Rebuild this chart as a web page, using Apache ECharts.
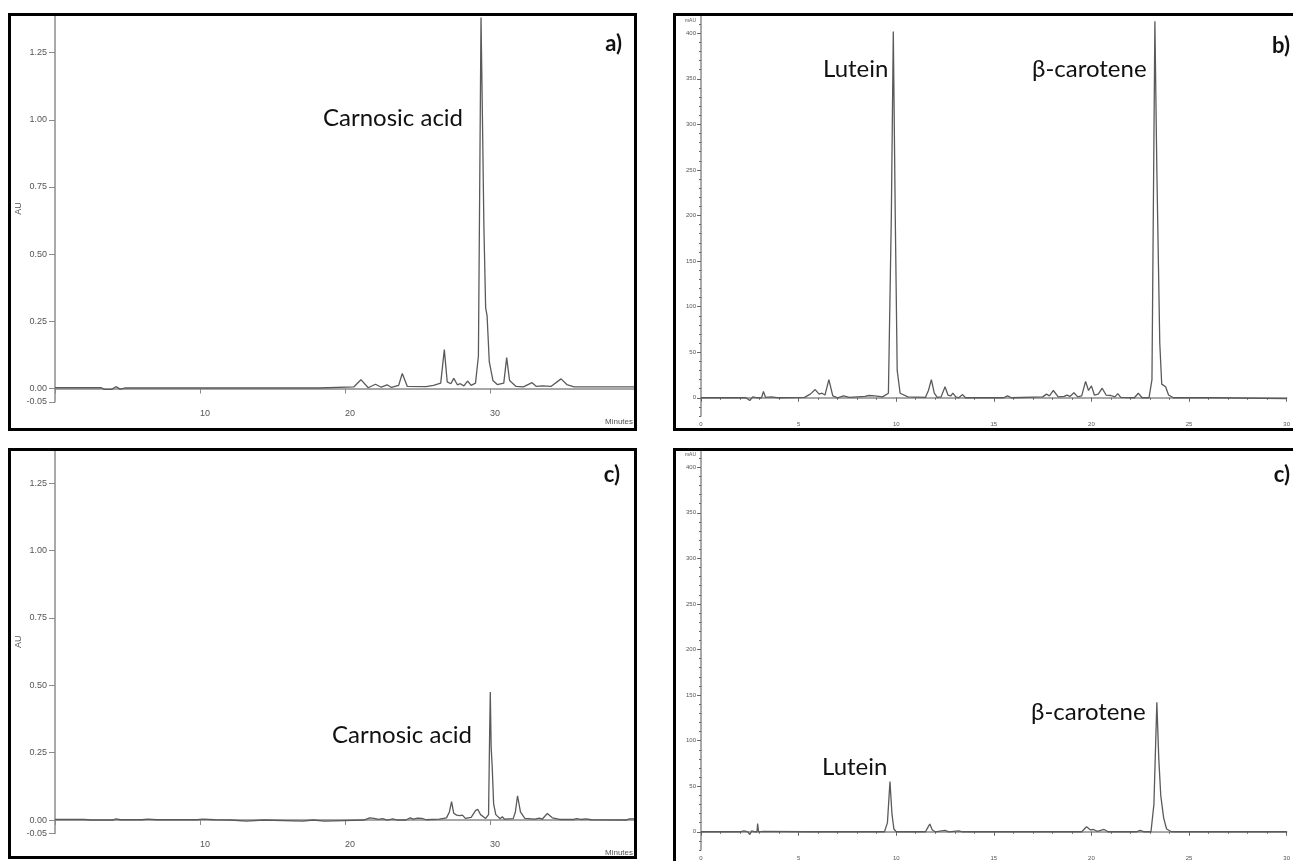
<!DOCTYPE html>
<html>
<head>
<meta charset="utf-8">
<title>HPLC chromatograms</title>
<script src="https://cdn.jsdelivr.net/npm/echarts@6/dist/echarts.min.js"></script>
<style>
  html, body { margin: 0; padding: 0; background: #fff; overflow: hidden; }
  #chart { position: absolute; left: 0; top: 0; width: 1293px; height: 861px; }
  .frame { position: absolute; box-sizing: border-box; border: 3px solid #000; pointer-events: none; }
</style>
</head>
<body>
<div id="chart"></div>
<div class="frame" style="left:8px;top:13px;width:629px;height:418px"></div>
<div class="frame" style="left:673px;top:13px;width:700px;height:418px"></div>
<div class="frame" style="left:8px;top:448px;width:629px;height:411px"></div>
<div class="frame" style="left:673px;top:448px;width:700px;height:500px"></div>
<script>
// a) rosemary extract, AU vs minutes
const timeA = [0, 3.2, 3.4, 3.9, 4.2, 4.5, 4.8, 5.3, 5.4, 5.6, 18.2, 18.3, 20.6, 21.1, 21.6, 22.1, 22.5, 22.9, 23.2, 23.7,
  23.95, 24.3, 25.6, 26.1, 26.6, 26.85, 27.05, 27.3, 27.5, 27.75, 27.95, 28.2, 28.45, 28.7, 29.0, 29.2, 29.38, 29.48, 29.58, 29.7,
  29.8, 29.95, 30.2, 30.5, 30.95, 31.15, 31.35, 31.8, 32.3, 32.9, 33.2, 33.6, 34.2, 34.9, 35.3, 35.8, 40]
const auA = [0.003, 0.003, -0.003, -0.003, 0.007, -0.002, 0.002, 0.002, -0.003, 0.002, 0.002, 0.006, 0.006, 0.033, 0.003, 0.016, 0.005, 0.014, 0.004, 0.012,
  0.056, 0.008, 0.007, 0.012, 0.02, 0.145, 0.025, 0.018, 0.038, 0.014, 0.018, 0.01, 0.028, 0.012, 0.02, 0.12, 1.38, 1.0, 0.6, 0.3,
  0.27, 0.1, 0.03, 0.015, 0.02, 0.115, 0.03, 0.008, 0.006, 0.022, 0.008, 0.01, 0.008, 0.036, 0.015, 0.006, 0.006]

// c) left, AU vs minutes
const timeC = [0, 2, 2.5, 4, 4.2, 4.5, 6, 6.4, 7, 9.8, 10.2, 11, 12.1, 12.2, 13.2, 13.3, 14.4, 14.5, 17.1, 17.2,
  17.8, 17.9, 18.6, 18.7, 21.3, 21.7, 22.0, 22.3, 22.6, 22.9, 23.3, 23.6, 24.2, 24.5, 24.7, 25.0, 25.3, 25.6, 26.5, 27.0,
  27.2, 27.35, 27.5, 27.7, 27.9, 28.1, 28.3, 28.7, 29.0, 29.15, 29.35, 29.7, 29.9, 29.97, 30.02, 30.08, 30.15, 30.25, 30.4, 30.7,
  30.85, 31.0, 31.6, 31.75, 31.9, 32.1, 32.4, 33.1, 33.4, 33.6, 33.95, 34.3, 34.8, 35.8, 35.95, 36.3, 36.6, 37, 39.4, 39.6, 40]
const auC = [0.002, 0.002, 0, 0, 0.004, 0.001, 0.001, 0.003, 0.001, 0.001, 0.003, 0.001, 0, -0.004, -0.004, 0, 0, -0.004, -0.004, 0,
  0, -0.004, -0.004, 0, 0, 0.008, 0.006, 0.002, 0.005, 0, 0.004, 0, 0, 0.008, 0.003, 0.007, 0.006, 0.001, 0.003, 0.008,
  0.03, 0.068, 0.025, 0.018, 0.016, 0.018, 0.006, 0.01, 0.035, 0.04, 0.02, 0.006, 0.02, 0.3, 0.475, 0.27, 0.2, 0.06, 0.02, 0.005,
  0.012, 0.003, 0.005, 0.03, 0.09, 0.03, 0.006, 0.003, 0.007, 0.003, 0.024, 0.008, 0.002, 0.002, 0.005, 0.002, 0.004, 0.001, 0, 0.004, 0.004]

// b) carotenoids, mAU vs minutes
const timeB = [0, 2.3, 2.5, 2.65, 2.9, 3.1, 3.2, 3.3, 3.6, 4.0, 5.3, 5.6, 5.85, 6.05, 6.2, 6.35, 6.55, 6.75, 7.0, 7.3,
  7.6, 8.4, 8.6, 8.9, 9.3, 9.6, 9.75, 9.85, 9.95, 10.05, 10.2, 10.6, 11.5, 11.65, 11.8, 11.95, 12.1, 12.3, 12.5, 12.65,
  12.8, 12.9, 13.05, 13.2, 13.4, 13.55, 15.5, 15.7, 15.9, 17.5, 17.7, 17.85, 18.05, 18.3, 18.6, 18.75, 18.9, 19.1, 19.3, 19.5,
  19.7, 19.85, 20.0, 20.15, 20.35, 20.55, 20.75, 21.0, 21.2, 21.35, 21.5, 22.2, 22.4, 22.6, 22.95, 23.1, 23.25, 23.35, 23.5, 23.6,
  23.8, 23.95, 24.2, 26.4, 26.5, 30]
const mauB = [0, 0, -3, 1, 0, 0, 7, 0.5, 1, 0, 0.5, 4, 9, 4, 5, 3, 20, 2, 0, 2,
  0.5, 1.5, 2.5, 2, 1, 5, 200, 402, 200, 30, 5, 1, 0.5, 8, 20, 5, 0.5, 1, 12, 3,
  2, 5, 1, 0, 3.5, 0, 0, 2, 0, 1, 4, 2, 8, 1, 1.5, 3, 1.5, 5.5, 1, 2,
  18, 8, 13, 3, 4, 10.5, 3, 2.5, 1, 4.5, 0.5, 0, 5, 0, 0, 20, 413, 250, 60, 15,
  12, 3, 0, 0, -1, -1]

// c) right, mAU vs minutes
const timeD = [0, 2.0, 2.2, 2.4, 2.5, 2.6, 2.75, 2.87, 2.9, 2.95, 3.2, 5.4, 5.5, 5.6, 9.4, 9.55, 9.68, 9.78, 9.88, 10.0,
  10.5, 10.6, 11.0, 11.5, 11.6, 11.72, 11.85, 12.0, 12.5, 12.7, 13.2, 13.4, 18.0, 18.1, 18.3, 19.5, 19.75, 19.95, 20.1, 20.3,
  20.65, 20.85, 22.3, 22.5, 22.7, 23.05, 23.2, 23.35, 23.45, 23.55, 23.7, 23.85, 24.1, 30]
const mauD = [0, 0, 1, 0, -3, 1, 0, 0, 9, 0, 0.5, 0, 1, 0, 0, 10, 55, 20, 3, 0,
  0, -1, 0, 0, 4, 8.5, 2, 0, 1.5, 0, 1, 0, 0, 2, 0, 0, 5.5, 2, 2.5, 0.5,
  2.5, 0, 0, 1.5, 0, 0, 30, 142, 80, 40, 15, 3, 0, 0]

// tick labels
const auTicks = [-0.05, 0, 0.25, 0.5, 0.75, 1.0, 1.25]
const minuteTicks = [10, 20, 30]
const mauTicks = [0, 50, 100, 150, 200, 250, 300, 350, 400]

const tickFont = "'Liberation Sans Narrow', 'Liberation Sans', Arial, sans-serif"
const textFont = "Lato, 'Open Sans', sans-serif"
const axisGrey = '#8c8c8c'
const labelGrey = '#555'
const traceGrey = '#5a5a5a'

const pairs = (xs, ys) => xs.map((x, i) => [x, ys[i]])

const chart = echarts.init(document.getElementById('chart'))

const minutesAxis = (grid) => ({
  gridIndex: grid, type: 'value', min: 0, max: 40, interval: 10,
  axisLine: { lineStyle: { color: axisGrey, width: 1.5 } },
  axisTick: { length: 5, lineStyle: { color: axisGrey } },
  axisLabel: {
    formatter: v => minuteTicks.includes(v) ? String(v) : '',
    align: 'left', margin: 7, fontSize: 9, color: labelGrey, fontFamily: tickFont
  },
  splitLine: { show: false }
})

const auAxis = (grid, max) => ({
  gridIndex: grid, type: 'value', min: -0.05, max: max,
  axisLine: { lineStyle: { color: axisGrey, width: 1.5 } },
  axisTick: { customValues: auTicks, length: 6, lineStyle: { color: axisGrey } },
  axisLabel: { customValues: auTicks, formatter: v => v.toFixed(2), margin: 8, fontSize: 9, color: labelGrey, fontFamily: tickFont },
  splitLine: { show: false },
  name: 'AU', nameLocation: 'middle', nameGap: 32,
  nameTextStyle: { fontSize: 9, color: labelGrey, fontFamily: tickFont }
})

const timeAxisMinor = (grid) => ({
  gridIndex: grid, type: 'value', position: 'bottom', min: 0, max: 30, interval: 1,
  axisLine: { lineStyle: { color: axisGrey, width: 1.5 } },
  axisTick: { length: 2, lineStyle: { color: '#666' } },
  axisLabel: { formatter: v => v % 5 === 0 ? String(v) : '', margin: 5, fontSize: 6, color: labelGrey, fontFamily: tickFont },
  splitLine: { show: false }
})
const timeAxisMajor = (grid) => ({
  gridIndex: grid, type: 'value', position: 'bottom', min: 0, max: 30, interval: 5,
  axisLine: { show: false },
  axisTick: { length: 4, lineStyle: { color: '#666' } },
  axisLabel: { show: false },
  splitLine: { show: false }
})
const mauAxisMinor = (grid) => ({
  gridIndex: grid, type: 'value', position: 'left', min: -20, max: 420, interval: 10,
  axisLine: { lineStyle: { color: axisGrey, width: 1.5 } },
  axisTick: { length: 2, lineStyle: { color: '#666' } },
  axisLabel: { formatter: v => (v >= 0 && v % 50 === 0) ? String(v) : '', margin: 5, fontSize: 6, color: labelGrey, fontFamily: tickFont },
  splitLine: { show: false },
  name: 'mAU', nameLocation: 'end', nameGap: -3,
  nameTextStyle: { align: 'right', verticalAlign: 'top', padding: [0, 5, 0, 0], fontSize: 5, color: labelGrey, fontFamily: tickFont }
})
const mauAxisMajor = (grid) => ({
  gridIndex: grid, type: 'value', position: 'left', min: -20, max: 420,
  axisLine: { show: false },
  axisTick: { customValues: mauTicks, length: 4, lineStyle: { color: '#666' } },
  axisLabel: { show: false },
  splitLine: { show: false }
})

const trace = (xi, yi, data) => ({
  type: 'line', xAxisIndex: xi, yAxisIndex: yi, data: data,
  showSymbol: false, symbol: 'none', silent: true,
  lineStyle: { color: traceGrey, width: 1.3 }
})

const label = (text, x, y, bold, align) => ({
  type: 'text', x: x, y: y, silent: true,
  style: {
    text: text, fill: '#111', textAlign: align || 'left', textVerticalAlign: 'middle',
    font: (bold ? 'bold 22px ' : '24px ') + textFont
  }
})

// small axis caption under the time axis
const caption = (text, x, y) => ({
  type: 'text', x: x, y: y, silent: true,
  style: { text: text, fill: labelGrey, textAlign: 'right', textVerticalAlign: 'middle', font: '8px ' + tickFont }
})

const option = {
  animation: false,
  backgroundColor: '#fff',
  grid: [
    { left: 55, top: 15, width: 580, height: 387 },
    { left: 55, top: 450, width: 580, height: 383.5 },
    { left: 701, top: 15, width: 600, height: 401 },
    { left: 701, top: 449, width: 600, height: 406.5 }
  ],
  xAxis: [
    minutesAxis(0),
    minutesAxis(1),
    timeAxisMinor(2), timeAxisMajor(2),
    timeAxisMinor(3), timeAxisMajor(3)
  ],
  yAxis: [
    auAxis(0, 1.3897),
    auAxis(1, 1.3725),
    mauAxisMinor(2), mauAxisMajor(2),
    mauAxisMinor(3), mauAxisMajor(3)
  ],
  series: [
    trace(0, 0, pairs(timeA, auA)),
    trace(1, 1, pairs(timeC, auC)),
    trace(2, 2, pairs(timeB, mauB)),
    trace(4, 4, pairs(timeD, mauD))
  ],
  graphic: [
    caption('Minutes', 633, 422),
    caption('Minutes', 633, 853),
    label('Carnosic acid', 323, 118),
    label('a)', 622, 44, true, 'right'),
    label('Lutein', 823, 69),
    label('β-carotene', 1032, 69),
    label('b)', 1290, 46, true, 'right'),
    label('Carnosic acid', 332, 735),
    label('c)', 620, 475, true, 'right'),
    label('Lutein', 822, 767),
    label('β-carotene', 1031, 712),
    label('c)', 1290, 475, true, 'right')
  ]
}

chart.setOption(option)
</script>
</body>
</html>
